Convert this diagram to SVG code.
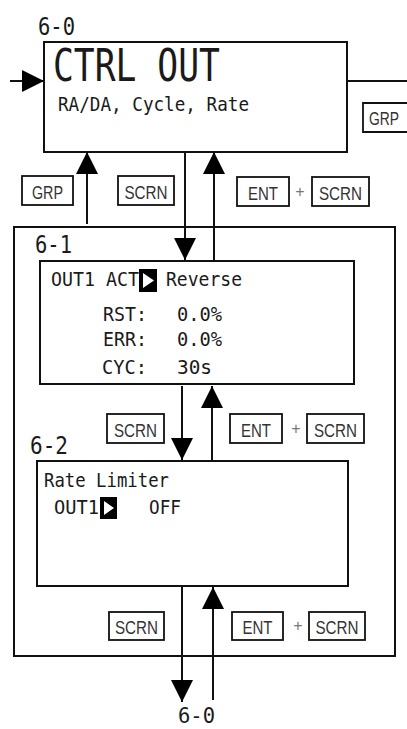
<svg xmlns="http://www.w3.org/2000/svg" width="407" height="729" viewBox="0 0 407 729">
<style>
.box{fill:#fff;stroke:#111;stroke-width:2}
.key{fill:#fff;stroke:#111;stroke-width:1.8}
.ln{fill:none;stroke:#111;stroke-width:2}
.t{font-family:"DejaVu Sans Mono","Liberation Mono",monospace;fill:#1a1a1a}
.kt{font-family:"Liberation Sans","DejaVu Sans",sans-serif;fill:#333;font-size:19px;text-anchor:middle}
.plus{font-family:"Liberation Sans",sans-serif;fill:#777;font-size:16px;text-anchor:middle}
</style>
<defs>
<marker id="ah" viewBox="0 0 22 22" markerWidth="22" markerHeight="22" refX="22" refY="11" orient="auto" markerUnits="userSpaceOnUse">
<path d="M0,0 L22,11 L0,22 z" fill="#000"/>
</marker>
</defs>
<rect width="407" height="729" fill="#fff"/>

<g id="outer-6-1-6-2">
<rect class="box" x="14" y="227" width="381" height="429"/>
</g>

<g id="node-6-0">
<text class="t" x="38" y="35" font-size="24" textLength="37" lengthAdjust="spacingAndGlyphs">6-0</text>
<rect class="box" x="44" y="42" width="303" height="110"/>
<text class="t" x="53" y="81" font-size="45" textLength="167" lengthAdjust="spacingAndGlyphs">CTRL OUT</text>
<text class="t" x="58" y="111" font-size="19" fill="#333" textLength="191" lengthAdjust="spacingAndGlyphs">RA/DA, Cycle, Rate</text>
</g>

<g id="node-6-1">
<text class="t" x="35" y="253" font-size="24" textLength="37" lengthAdjust="spacingAndGlyphs">6-1</text>
<rect class="box" x="40" y="261" width="314" height="123"/>
<text class="t" x="51" y="286" font-size="19" textLength="88" lengthAdjust="spacingAndGlyphs">OUT1 ACT</text>
<rect x="139" y="269" width="18" height="23" fill="#000"/>
<polygon points="143,273 154,280.5 143,288" fill="#fff"/>
<text class="t" x="166" y="286" font-size="19" textLength="76" lengthAdjust="spacingAndGlyphs">Reverse</text>
<text class="t" x="103" y="321" font-size="19" textLength="44" lengthAdjust="spacingAndGlyphs">RST:</text>
<text class="t" x="177" y="321" font-size="19" textLength="45" lengthAdjust="spacingAndGlyphs">0.0%</text>
<text class="t" x="103" y="346" font-size="19" textLength="44" lengthAdjust="spacingAndGlyphs">ERR:</text>
<text class="t" x="177" y="346" font-size="19" textLength="45" lengthAdjust="spacingAndGlyphs">0.0%</text>
<text class="t" x="102" y="374" font-size="19" textLength="45" lengthAdjust="spacingAndGlyphs">CYC:</text>
<text class="t" x="177" y="374" font-size="19" textLength="35" lengthAdjust="spacingAndGlyphs">30s</text>
</g>

<g id="node-6-2">
<text class="t" x="30" y="454" font-size="24" textLength="38" lengthAdjust="spacingAndGlyphs">6-2</text>
<rect class="box" x="37" y="461" width="311" height="125"/>
<text class="t" x="44" y="487" font-size="19" textLength="125" lengthAdjust="spacingAndGlyphs">Rate Limiter</text>
<text class="t" x="54" y="514" font-size="19" textLength="45" lengthAdjust="spacingAndGlyphs">OUT1</text>
<rect x="100" y="497" width="17" height="22" fill="#000"/>
<polygon points="104,501 114,508 104,515" fill="#fff"/>
<text class="t" x="149" y="514" font-size="19" textLength="32" lengthAdjust="spacingAndGlyphs">OFF</text>
</g>

<g id="label-6-0-bottom">
<text class="t" x="178" y="723" font-size="21" textLength="37" lengthAdjust="spacingAndGlyphs">6-0</text>
</g>

<g id="connectors">
<line class="ln" x1="10" y1="81" x2="44" y2="81" marker-end="url(#ah)"/>
<line class="ln" x1="347" y1="81" x2="407" y2="81"/>
<line class="ln" x1="87" y1="224" x2="87" y2="152" marker-end="url(#ah)"/>
<line class="ln" x1="185" y1="152" x2="185" y2="260" marker-end="url(#ah)"/>
<line class="ln" x1="214" y1="261" x2="214" y2="152" marker-end="url(#ah)"/>
<line class="ln" x1="182" y1="386" x2="182" y2="460" marker-end="url(#ah)"/>
<line class="ln" x1="212" y1="461" x2="212" y2="386" marker-end="url(#ah)"/>
<line class="ln" x1="182" y1="587" x2="182" y2="702" marker-end="url(#ah)"/>
<line class="ln" x1="213" y1="700" x2="213" y2="587" marker-end="url(#ah)"/>
</g>

<g id="keys">
<path class="key" d="M407,103 H363 V132 H407"/>
<text class="kt" x="369" y="125" style="text-anchor:start" font-size="17" textLength="30" lengthAdjust="spacingAndGlyphs">GRP</text>

<rect class="key" x="22" y="176" width="51" height="29"/>
<text class="kt" x="47.5" y="199" textLength="31" lengthAdjust="spacingAndGlyphs">GRP</text>
<rect class="key" x="118" y="176" width="56" height="29"/>
<text class="kt" x="146" y="199" textLength="43" lengthAdjust="spacingAndGlyphs">SCRN</text>
<rect class="key" x="237" y="177" width="52" height="29"/>
<text class="kt" x="263" y="200" textLength="30" lengthAdjust="spacingAndGlyphs">ENT</text>
<text class="plus" x="300" y="197">+</text>
<rect class="key" x="312" y="177" width="57" height="29"/>
<text class="kt" x="340.5" y="200" textLength="43" lengthAdjust="spacingAndGlyphs">SCRN</text>

<rect class="key" x="107" y="414" width="57" height="29"/>
<text class="kt" x="135.5" y="437" textLength="43" lengthAdjust="spacingAndGlyphs">SCRN</text>
<rect class="key" x="230" y="414" width="52" height="29"/>
<text class="kt" x="256" y="437" textLength="30" lengthAdjust="spacingAndGlyphs">ENT</text>
<text class="plus" x="296" y="434">+</text>
<rect class="key" x="307" y="414" width="57" height="29"/>
<text class="kt" x="335.5" y="437" textLength="43" lengthAdjust="spacingAndGlyphs">SCRN</text>

<rect class="key" x="109" y="612" width="55" height="28"/>
<text class="kt" x="136.5" y="634" textLength="43" lengthAdjust="spacingAndGlyphs">SCRN</text>
<rect class="key" x="232" y="612" width="51" height="28"/>
<text class="kt" x="257.5" y="634" textLength="30" lengthAdjust="spacingAndGlyphs">ENT</text>
<text class="plus" x="298" y="631">+</text>
<rect class="key" x="309" y="612" width="56" height="28"/>
<text class="kt" x="337" y="634" textLength="43" lengthAdjust="spacingAndGlyphs">SCRN</text>
</g>
</svg>
